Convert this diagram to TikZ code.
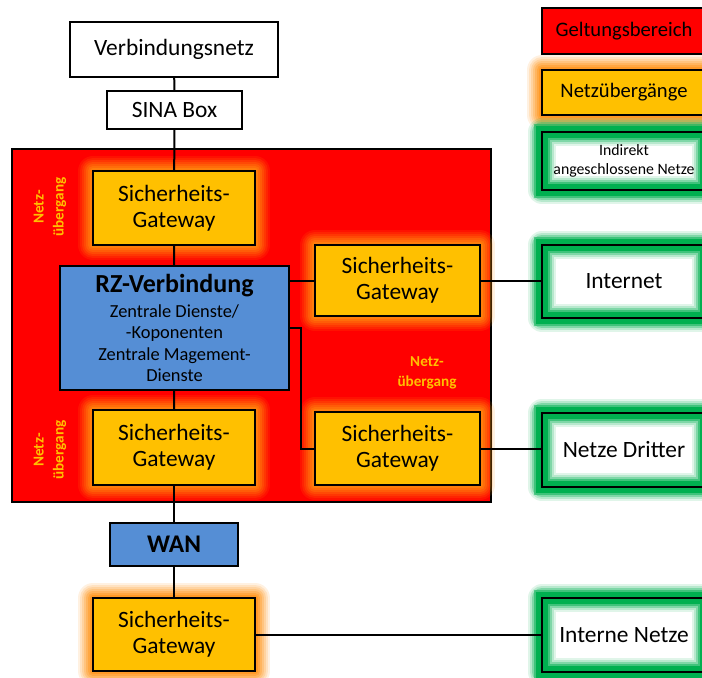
\documentclass[tikz,border=0pt]{standalone}
\usepackage{fontspec}
\setmainfont{Carlito}
\usetikzlibrary{positioning}
\definecolor{zonered}{rgb}{1,0,0}
\definecolor{gwyellow}{rgb}{1,0.753,0}
\definecolor{gwglow}{rgb}{1,0.56,0.05}
\definecolor{rzblue}{rgb}{0.333,0.557,0.835}
\definecolor{netgreen}{rgb}{0,0.69,0.314}

\begin{document}
\begin{tikzpicture}[
  x=0.5pt, y=-0.5pt,
  every node/.style={
    draw,
    line width=1pt,
    align=center,
    inner sep=0pt,
    font=\fontsize{11.7}{13}\selectfont
  },
  plainbox/.style={fill=white},
  zone/.style={fill=zonered},
  gateway/.style={
    preaction={draw=gwglow, line width=15pt, opacity=0.12, line join=round},
    preaction={draw=gwglow, line width=13pt, opacity=0.15, line join=round},
    preaction={draw=gwglow, line width=11pt, opacity=0.18, line join=round},
    preaction={draw=gwglow, line width=9pt, opacity=0.22, line join=round},
    preaction={draw=gwglow, line width=7pt, opacity=0.28, line join=round},
    preaction={draw=gwglow, line width=5pt, opacity=0.35, line join=round},
    preaction={draw=gwglow, line width=3pt, opacity=0.5, line join=round},
    fill=gwyellow,
    minimum width=81pt,
    minimum height=37pt
  },
  netbox/.style={
    fill=white,
    minimum width=82pt,
    minimum height=37pt,
    postaction={draw=netgreen, line width=14pt, opacity=0.12, line join=round},
    postaction={draw=netgreen, line width=12pt, opacity=0.18, line join=round},
    postaction={draw=netgreen, line width=10pt, opacity=0.3, line join=round},
    postaction={draw=netgreen, line width=8pt, opacity=0.5},
    postaction={draw=netgreen, line width=6pt},
    postaction={draw=black, line width=1pt}
  },
  rzbox/.style={fill=rzblue},
  gwlabel/.style={
    draw=none,
    text=gwyellow,
    font=\fontsize{7.6}{10}\selectfont\bfseries
  },
  link/.style={draw=black, line width=1pt}
]

\path[use as bounding box, fill=white] (0,0) rectangle (702,677);

% Geltungsbereich
\node[zone, minimum width=239.5pt, minimum height=176.5pt] (zone) at (251.5,325.5) {};

\node[plainbox, minimum width=104pt, minimum height=27.5pt] (vnetz) at (174,49.5) {Verbindungsnetz};
\node[plainbox, minimum width=67.5pt, minimum height=19pt] (sina) at (174.5,110) {SINA Box};

\node[gateway] (gwtop) at (174,208) {Sicherheits-\\Gateway};
\node[rzbox, minimum width=114.5pt, minimum height=62pt, font=\fontsize{9.2}{10.75}\selectfont] (rz) at (174.5,328) {
  {\fontsize{13}{14}\selectfont\bfseries RZ-Verbindung}\\[1.5pt]
  Zentrale Dienste/\\
  -Koponenten\\
  Zentrale Magement-\\
  Dienste
};
\node[gateway, minimum width=82.5pt, minimum height=35.5pt] (gwinet) at (397.5,280.5) {Sicherheits-\\Gateway};
\node[gateway, minimum height=37.5pt] (gwmid) at (174,447.5) {Sicherheits-\\Gateway};
\node[gateway, minimum width=82.5pt, minimum height=36.5pt] (gwext) at (397.5,448.5) {Sicherheits-\\Gateway};

\node[rzbox, minimum width=64pt, minimum height=21.5pt, font=\fontsize{12.7}{14}\selectfont\bfseries] (wan) at (174,544.5) {WAN};
\node[gateway, minimum height=36.5pt] (gwlan) at (174,634.5) {Sicherheits-\\Gateway};

% angeschlossene Netze
\node[netbox, minimum height=36.5pt] (inet) at (624,281.5) {Internet};
\node[netbox] (dritte) at (624,450) {Netze Dritter};
\node[netbox] (lan) at (624,635) {Interne Netze};

% Legende
\node[zone, minimum width=82pt, minimum height=23pt, font=\fontsize{10.3}{12}\selectfont] (leg zone) at (624,31) {Geltungsbereich};
\node[gateway, minimum width=82pt, minimum height=22.5pt, font=\fontsize{10.3}{12}\selectfont] (leg gw) at (624,92.5) {Netzübergänge};
\node[netbox, minimum height=29pt, font=\fontsize{7.9}{9.5}\selectfont] (leg net) at (624,161) {Indirekt\\angeschlossene Netze};

\node[gwlabel, rotate=90] (lbl top) at (50,207) {Netz-\\übergang};
\node[gwlabel, rotate=90] (lbl mid) at (50,450) {Netz-\\übergang};
\node[gwlabel] (lbl right) at (427,373) {Netz-\\übergang};

% Verbindungen
\draw[link] (vnetz) -- (sina);
\draw[link] (sina) -- (gwtop);
\draw[link] (gwtop) -- (rz);
\draw[link] (rz) -- (gwmid);
\draw[link] (gwmid) -- (wan);
\draw[link] (wan) -- (gwlan);
\draw[link] (rz.east |- gwinet) -- (gwinet.west);
\draw[link] (gwinet.east) -- (gwinet.east -| inet.west);
\draw[link] (rz.east) -- ++(11,0) |- (gwext.west);
\draw[link] (gwext.east) -- (gwext.east -| dritte.west);
\draw[link] (gwlan.east) -- (gwlan.east -| lan.west);

\end{tikzpicture}
\end{document}
